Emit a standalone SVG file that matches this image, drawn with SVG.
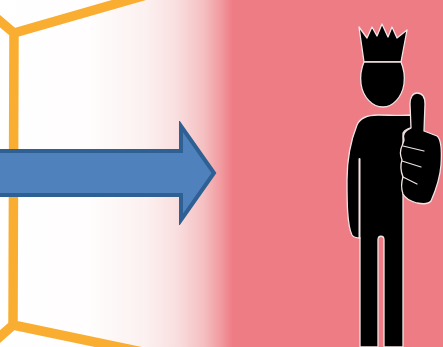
<svg xmlns="http://www.w3.org/2000/svg" width="443" height="347" viewBox="0 0 443 347">
<defs>
<linearGradient id="bg" gradientUnits="userSpaceOnUse" x1="0" y1="0" x2="443" y2="0">
<stop offset="0" stop-color="#ffffff"/>
<stop offset="0.2" stop-color="#fffdfd"/>
<stop offset="0.33" stop-color="#fcf0f0"/>
<stop offset="0.4" stop-color="#f9dedf"/>
<stop offset="0.46" stop-color="#f5bfc1"/>
<stop offset="0.5" stop-color="#f1999e"/>
<stop offset="0.525" stop-color="#ee7c85"/>
<stop offset="1" stop-color="#ee7c85"/>
</linearGradient>
<filter id="soft" x="-5%" y="-5%" width="110%" height="110%"><feGaussianBlur stdDeviation="0.45"/></filter>
<style>
.frame{fill:none;stroke:#f9ae32;stroke-width:9.500}
.man{fill:#000;stroke:#f3e4e4;stroke-width:1.300;stroke-linejoin:round}
.gap{fill:none;stroke:#f3e4e4;stroke-linecap:round}
</style>
</defs>
<rect width="443" height="347" fill="url(#bg)"/>
<g id="frame" filter="url(#soft)">
<path class="frame" d="M-6 16L14 33L150 -6M14 33L13 325L-6 342M13 325L142 352"/>
</g>
<g id="arrow" filter="url(#soft)">
<path d="M-5 151H181V126L214 173L181 220V195H-5Z" fill="#4f81bd" stroke="#2f6093" stroke-width="4" stroke-linejoin="miter"/>
</g>
<g id="person" filter="url(#soft)">
<path class="man" d="M359 27L367 38L372 27L377 36L382 24L388 37L392 27L397 38L407 30L401 62H364Z"/>
<path class="man" d="M364 62H401C404 69 405 76 404 84C402 97 393 107 383 107C372 107 363 97 361 84C360 76 361 69 364 62Z"/>
<path class="man" d="M378 115C368 115 360 118 357 125C351 140 347 160 347 180C347 200 347 225 352 235C354 238 357 238 360 238V347H378V240C378 235 384 235 384 240V347H403V198L403 133C405 129 410 128 412 128V115C400 116 390 115 378 115Z"/>
<path class="man" d="M411 128L410 104C410 97 413 93 417 93C422 93 425 97 425 104L424 131L437 136C441 139 442 150 441 165C440 178 435 192 431 201C428 205 422 204 417 203C410 201 405 198 403 194C401 188 401 183 403 177C401 172 400 166 402 160C400 155 400 150 402 146C403 143 404 141 404 140C402 134 405 131 411 128Z"/>
<path class="gap" stroke-width="2" d="M359.500 159V238"/>
<path class="gap" stroke-width="1.200" d="M403 146L424 151M402 161L421 167M403 177L417 184"/>
</g>
</svg>
